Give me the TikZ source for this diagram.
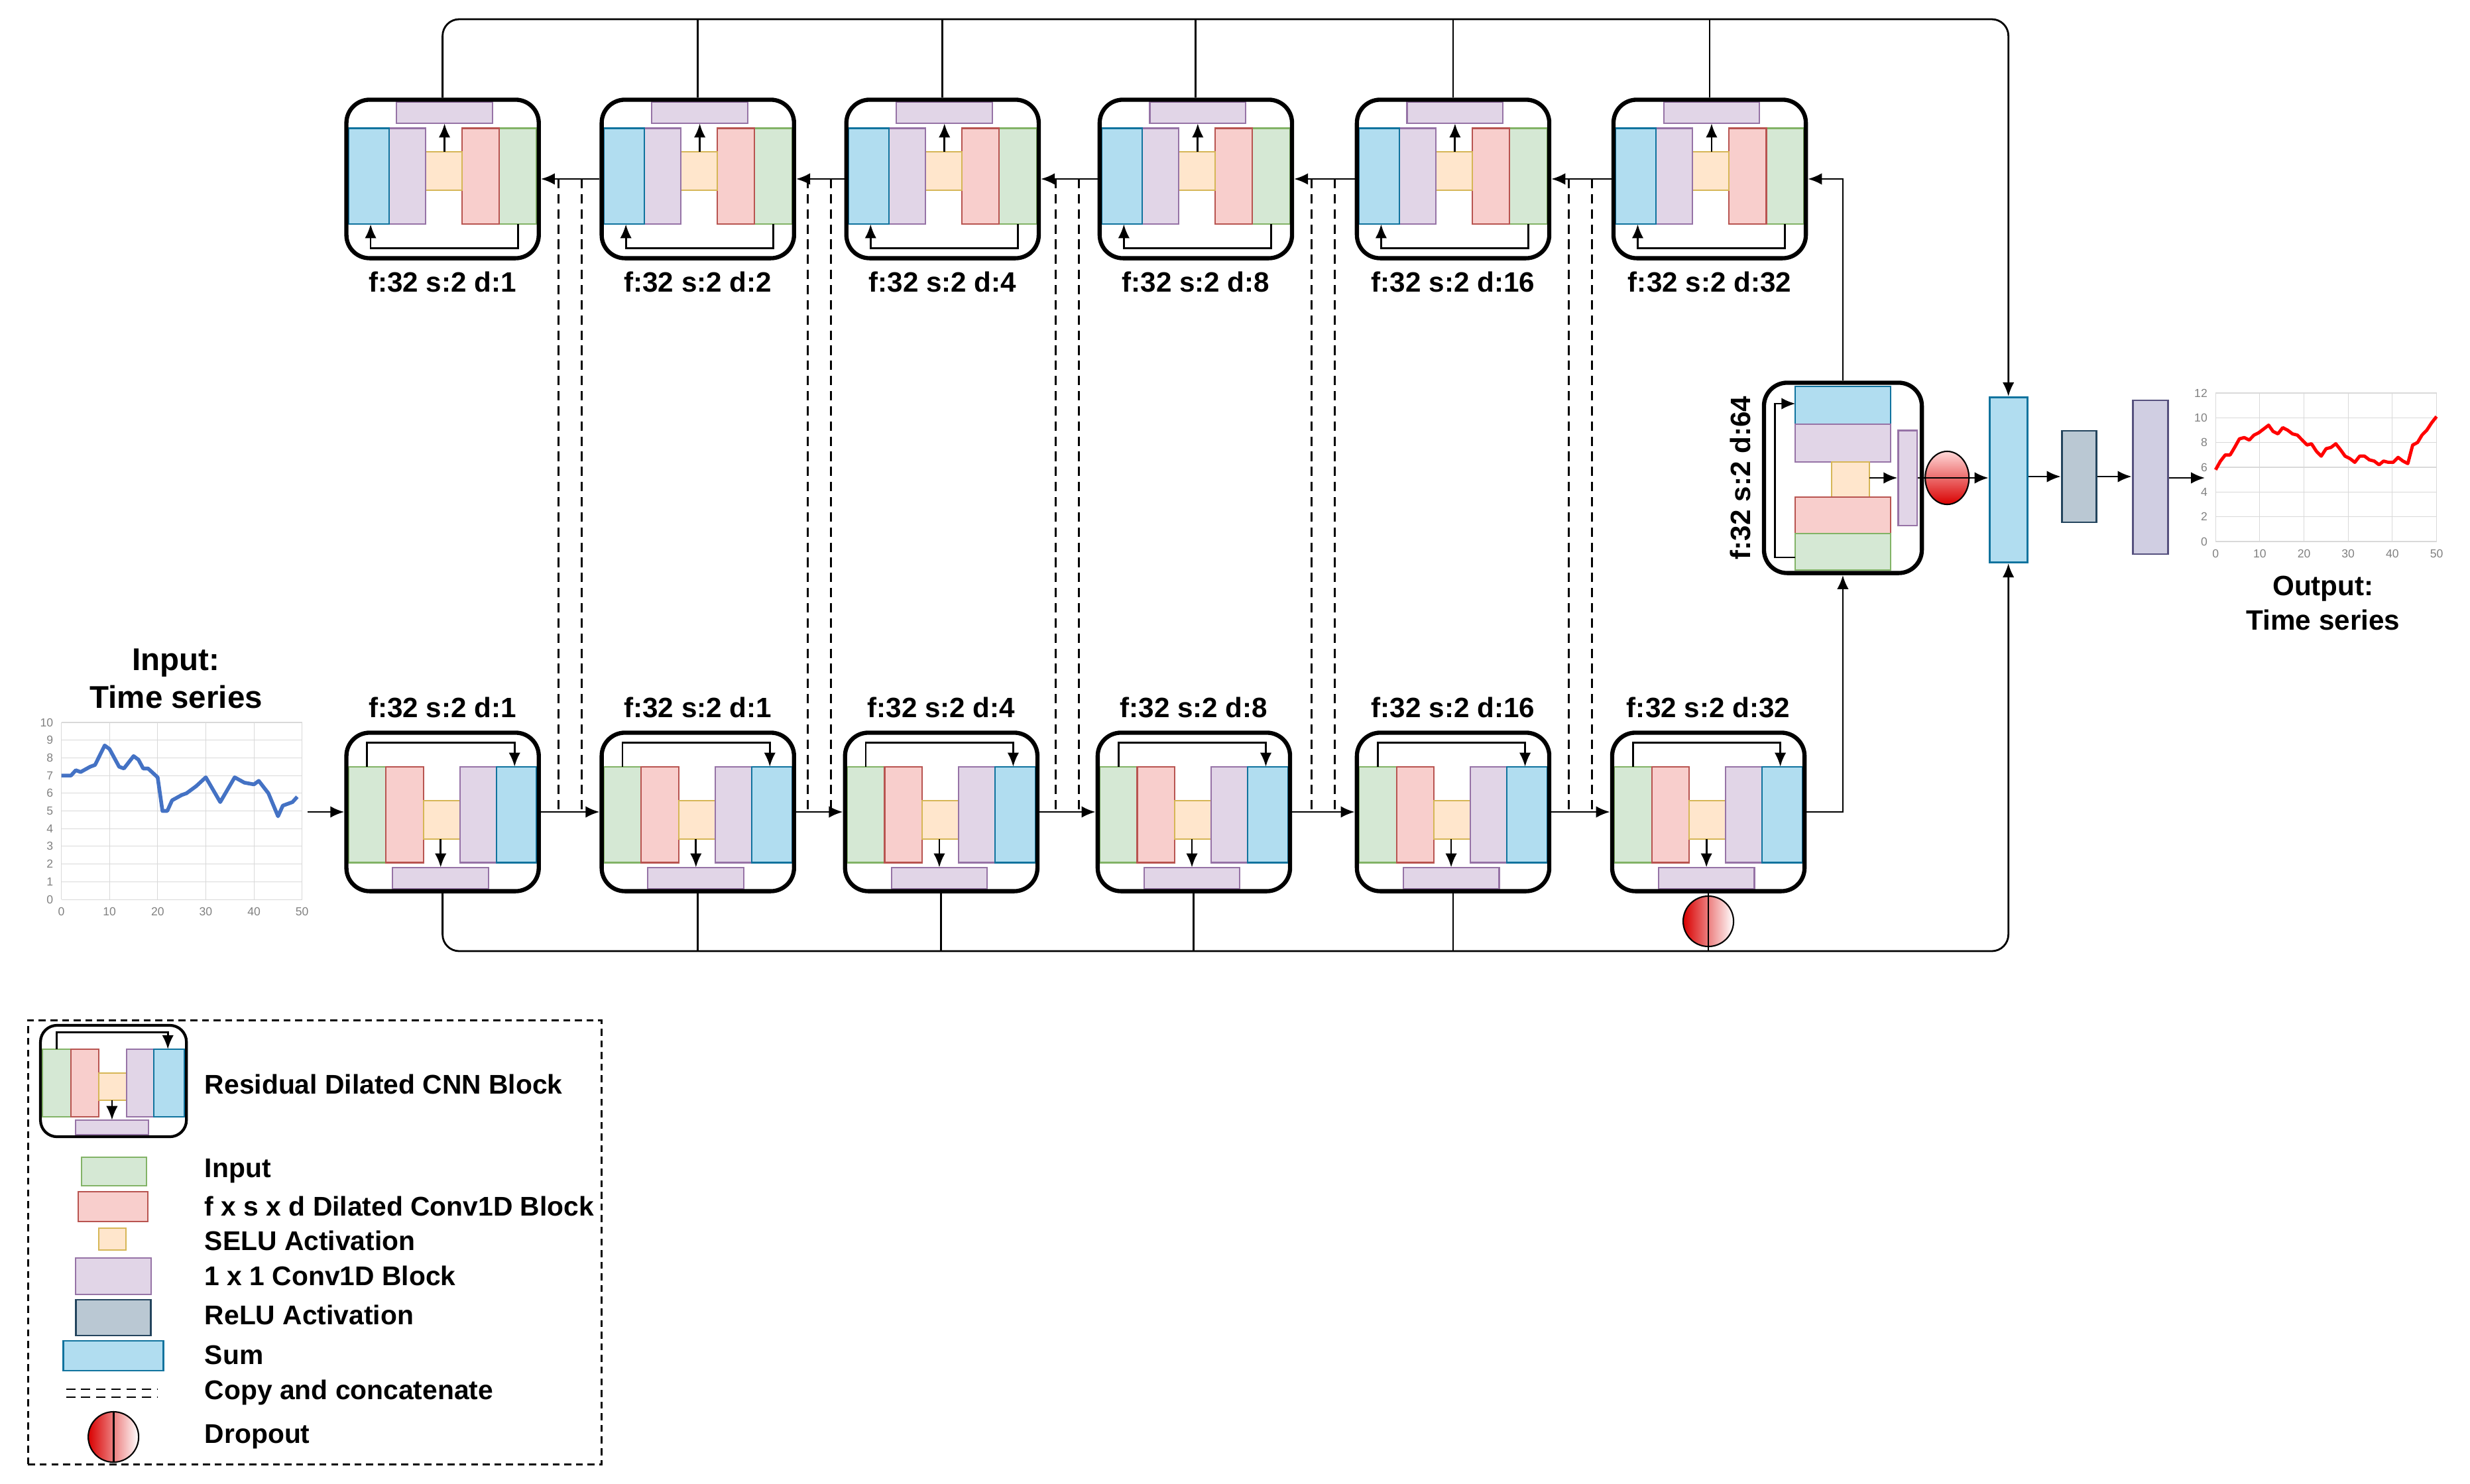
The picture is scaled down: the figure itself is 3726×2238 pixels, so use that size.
\documentclass[tikz,border=0pt]{standalone}
\usepackage{fontspec}
\setmainfont{Liberation Sans}
\usetikzlibrary{arrows.meta,shapes.geometric,calc}
\definecolor{cg}{HTML}{D5E8D4}\definecolor{cgd}{HTML}{82B366}
\definecolor{cr}{HTML}{F8CECC}\definecolor{crd}{HTML}{B85450}
\definecolor{cy}{HTML}{FFE6CC}\definecolor{cyd}{HTML}{D6B656}
\definecolor{cp}{HTML}{E1D5E7}\definecolor{cpd}{HTML}{9673A6}
\definecolor{cb}{HTML}{B1DDF0}\definecolor{cbd}{HTML}{10739E}
\definecolor{cre}{HTML}{BAC8D3}\definecolor{cred}{HTML}{23445D}
\definecolor{cc}{HTML}{D0CEE2}\definecolor{ccd}{HTML}{56517E}
\definecolor{cline}{HTML}{4472C4}
\newcommand\rbody[5]{%
\begin{scope}[shift={(#1,#2)},rotate=#3]
\begin{scope}[shift={(-#4/2,-#5/2)},xscale=#4,yscale=#5]
\draw[gin] (0.01,0.214) rectangle (0.205,0.82);
\draw[rin] (0.205,0.214) rectangle (0.40,0.82);
\draw[yin] (0.40,0.43) rectangle (0.59,0.67);
\draw[pin] (0.59,0.214) rectangle (0.78,0.82);
\draw[bin] (0.78,0.214) rectangle (0.99,0.82);
\draw[pin] (0.24,0.85) rectangle (0.74,0.985);
\draw[arr] (0.107,0.214) |- (0.875,0.062) -- (0.875,0.214);
\draw[arr] (0.49,0.67) -- (0.49,0.85);
\end{scope}\end{scope}}
\begin{document}
\begin{tikzpicture}[x=0.01cm,y=-0.01cm,
 blk/.style={draw,line width=1.8pt,rounded corners=0.35cm,minimum width=2.9cm,minimum height=2.39cm,inner sep=0pt},
 lab/.style={font=\bfseries\fontsize{12}{14}\selectfont},
 llab/.style={font=\bfseries\fontsize{11.6}{14}\selectfont},
 ttl/.style={font=\bfseries\fontsize{13.5}{16}\selectfont,align=center},
 arr/.style={-{Latex[length=6pt,width=5pt]},line width=0.8pt},
 ln/.style={line width=0.8pt},
 gin/.style={fill=cg,draw=cgd,line width=0.6pt},
 rin/.style={fill=cr,draw=crd,line width=0.6pt},
 yin/.style={fill=cy,draw=cyd,line width=0.6pt},
 pin/.style={fill=cp,draw=cpd,line width=0.6pt},
 bin/.style={fill=cb,draw=cbd,line width=0.6pt},
 copy/.style={dashed,line width=0.8pt,dash pattern=on 4pt off 2.5pt},
 drop/.style={ellipse,draw,line width=0.6pt,inner sep=0pt},
 tick/.style={font=\fontsize{5}{6}\selectfont,text=gray},
 grid/.style={draw=gray!30,line width=0.3pt}]
\useasboundingbox (0,0) rectangle (3726,2238);
\begin{scope}[xscale=0.995]
% bottom row
\foreach \i/\x/\lb in {1/671/1,2/1058/1,3/1427/4,4/1810/8,5/2203/16,6/2590/32}{
 \rbody{\x}{1225}{0}{291}{239}
 \node[blk] (b\i) at (\x,1225) {};
 \node[lab] at (\x,1067) {f:32 s:2 d:\lb};
}
% top row
\foreach \i/\x/\lb in {1/671/1,2/1058/2,3/1429/4,4/1813/8,5/2203/16,6/2592/32}{
 \rbody{\x}{270}{180}{291}{239}
 \node[blk] (t\i) at (\x,270) {};
 \node[lab] at (\x,425) {f:32 s:2 d:\lb};
}
% dilated block
\draw[bin] (2722,583) rectangle (2866,640);
\draw[pin] (2722,640) rectangle (2866,697);
\draw[yin] (2777,697) rectangle (2834,750);
\draw[rin] (2722,750) rectangle (2866,805);
\draw[gin] (2722,805) rectangle (2866,860);
\node[draw=cpd,fill=cp,line width=0.6pt,minimum width=0.28cm,minimum height=1.43cm,inner sep=0pt] (sp) at (2892,721) {};
\draw[arr] (2722,841) -| (2691,609) -- (2722,609);
\draw[arr] (2834,721) -- (sp.west);
\node[blk,minimum width=2.38cm,minimum height=2.87cm] (dz) at (2794,721) {};
\node[lab,rotate=90] at (2639,721) {f:32 s:2 d:64};
% output stack
\node[draw=cbd,fill=cb,line width=0.8pt,minimum width=0.57cm,minimum height=2.49cm,inner sep=0pt] (sum) at (3045,724) {};
\node[draw=cred,fill=cre,line width=0.8pt,minimum width=0.52cm,minimum height=1.38cm,inner sep=0pt] (relu) at (3152,719) {};
\node[draw=ccd,fill=cc,line width=0.8pt,minimum width=0.53cm,minimum height=2.32cm,inner sep=0pt] (conv) at (3260,720) {};
\draw[arr] (sp.east) -- (sum.west |- sp.east);
\node[drop,minimum width=0.66cm,minimum height=0.8cm,top color=red!15,bottom color=red!85!black] (d1) at (2952,721) {};
\draw[line width=0.8pt] (d1.west) -- (d1.east);
\draw[arr] (sum.east |- relu.west) -- (relu.west);
\draw[arr] (relu.east) -- (conv.west |- relu.east);
\coordinate (oin) at (3343,721);
\draw[arr] (conv.east |- oin) -- (oin);
% horizontal flow
\coordinate (iout) at (466,1225);
\draw[arr] (iout) -- (b1.west);
\foreach \a/\b in {1/2,2/3,3/4,4/5,5/6}{
 \draw[arr] (b\a.east) -- (b\b.west);
 \draw[arr] (t\b.west) -- (t\a.east);
 \coordinate (m\a) at ($(b\a.east)!0.5!(b\b.west)$);
 \draw[copy] ([xshift=-5]m\a |- t\a.east) -- ([xshift=-5]m\a);
 \draw[copy] ([xshift=5]m\a |- t\a.east) -- ([xshift=5]m\a);
}
\draw[arr] (b6.east) -| (dz.south);
\draw[arr] (dz.north) |- (t6.east);
% top bus
\coordinate (tb) at (0,29);
\draw[arr,rounded corners=0.25cm] (t1.north) |- (tb -| sum.north) -- (sum.north);
\foreach \i in {2,...,6}{\draw[ln] (t\i.north) -- (t\i.north |- tb);}
% bottom bus
\coordinate (bb) at (0,1435);
\draw[arr,rounded corners=0.25cm] (b1.south) |- (bb -| sum.south) -- (sum.south);
\foreach \i in {2,...,6}{\draw[ln] (b\i.south) -- (b\i.south |- bb);}
\node[drop,minimum width=0.76cm,minimum height=0.76cm,left color=red!85!black,right color=white] (d2) at (2590,1390) {};
\draw[line width=0.8pt] (d2.north) -- (d2.south);
% input chart
\node[ttl] at (267,1024) {Input:\\Time series};
\begin{scope}[shift={(93,1357)},xscale=7.3,yscale=-26.7]
 \foreach \v in {0,...,10}{\draw[grid] (0,\v) -- (50,\v); \node[tick,left] at (0,\v) {\v};}
 \foreach \t in {0,10,...,50}{\draw[grid] (\t,0) -- (\t,10); \node[tick,below] at (\t,0) {\t};}
 \draw[color=cline,line width=1.6pt,line join=round] plot coordinates {(0,7)(2,7)(3,7.3)(4,7.2)(6,7.5)(7,7.6)(9,8.7)(10,8.5)(12,7.5)(13,7.4)(15,8.1)(16,7.9)(17,7.4)(18,7.4)(20,6.9)(21,5.0)(22,5.0)(23,5.6)(25,5.9)(26,6.0)(28,6.4)(30,6.9)(33,5.5)(36,6.9)(38,6.6)(40,6.5)(41,6.7)(43,6.0)(45,4.7)(46,5.3)(48,5.5)(49,5.8)};
\end{scope}
% output chart
\node[ttl,font=\bfseries\fontsize{12}{15}\selectfont] at (3522,910) {Output:\\Time series};
\begin{scope}[shift={(3359,817)},xscale=6.7,yscale=-18.67]
 \foreach \v in {0,2,...,12}{\draw[grid] (0,\v) -- (50,\v); \node[tick,left] at (0,\v) {\v};}
 \foreach \t in {0,10,...,50}{\draw[grid] (\t,0) -- (\t,12); \node[tick,below] at (\t,0) {\t};}
 \draw[red,line width=1.4pt,line join=round] plot coordinates {(0,5.8)(1.1,6.5)(2.2,7)(3.3,7)(4.3,7.6)(5.4,8.3)(6.5,8.4)(7.6,8.2)(8.7,8.6)(9.8,8.8)(10.9,9.1)(12,9.4)(13,8.9)(14.1,8.7)(15.2,9.2)(16.3,9)(17.4,8.7)(18.5,8.6)(19.6,8.2)(20.7,7.8)(21.7,7.9)(22.8,7.3)(23.9,6.9)(25,7.5)(26.1,7.6)(27.2,7.9)(28.3,7.4)(29.3,6.9)(30.4,6.7)(31.5,6.4)(32.6,6.9)(33.7,6.9)(34.8,6.6)(35.9,6.5)(37,6.2)(38,6.5)(39.1,6.4)(40.2,6.4)(41.3,6.8)(42.4,6.5)(43.5,6.3)(44.6,7.8)(45.7,8.0)(46.7,8.6)(47.8,9.0)(48.9,9.6)(50,10.1)};
\end{scope}
% legend
\node[draw,dashed,line width=0.8pt,dash pattern=on 3pt off 2pt,minimum width=8.65cm,minimum height=6.69cm,inner sep=0pt] (leg) at (477.5,1874.5) {};
\rbody{172}{1631}{0}{220}{168}
\node[draw,line width=1.2pt,rounded corners=0.25cm,minimum width=2.2cm,minimum height=1.68cm,inner sep=0pt] (lb) at (172,1631) {};
\draw[gin] (124,1746) rectangle (222,1789);
\draw[rin] (119,1798) rectangle (224,1843);
\draw[yin] (150,1853) rectangle (191,1886);
\draw[pin] (115,1898) rectangle (229,1953);
\draw[fill=cre,draw=cred,line width=0.8pt] (115,1961) rectangle (229,2015);
\draw[bin,line width=0.8pt] (96,2023) rectangle (248,2068);
\draw[copy] (100,2096) -- (239,2096);
\draw[copy] (100,2108) -- (239,2108);
\node[drop,minimum width=0.76cm,minimum height=0.76cm,left color=red!85!black,right color=white] (ld) at (172,2168) {};
\draw[line width=0.8pt] (ld.north) -- (ld.south);
\foreach \y/\t in {1636/Residual Dilated CNN Block,1767/Input,1820/f x s x d Dilated Conv1D Block,1872/SELU Activation,1925/1 x 1 Conv1D Block,1984/ReLU Activation,2044/Sum,2101/Copy and concatenate,2168/Dropout}{
 \node[llab,anchor=west] at (298,\y) {\t};
}
\end{scope}
\end{tikzpicture}
\end{document}
